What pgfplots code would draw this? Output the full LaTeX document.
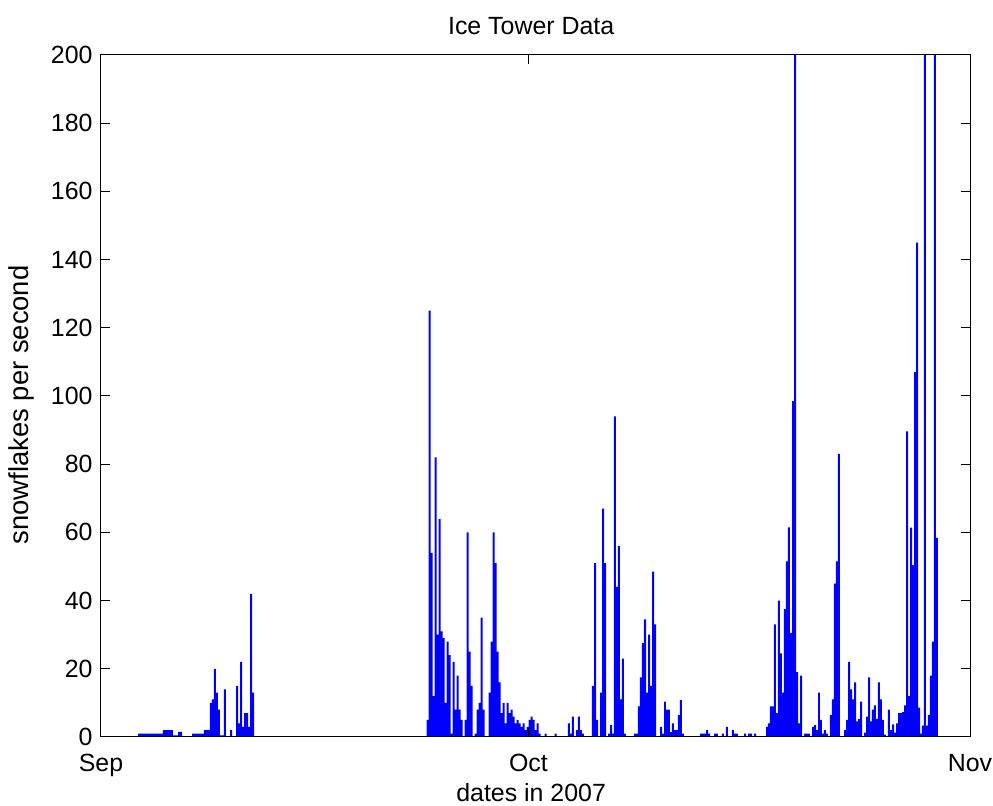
\documentclass[border=0pt]{standalone}
\usepackage{fontspec}
\setmainfont{Liberation Sans}
\usepackage{pgfplots}
\usepackage{pgfplotstable}
\pgfplotsset{compat=1.18}
\definecolor{mblue}{RGB}{0,0,255}

% day since 1 Sep 2007 (start of bin), snowflakes per second
\pgfplotstableread{
day rate
0 0
2.60 1
4.35 2
5.05 0.5
5.41 1.5
5.69 0
6.39 1
7.23 2
7.65 10
7.79 11
7.93 20
8.07 13
8.21 8
8.35 0.5
8.63 14
8.77 0
9.06 2
9.20 0
9.48 15
9.62 4
9.76 22
9.90 3
10.04 7
10.32 3
10.46 42
10.60 13
10.74 0
22.86 5
23.00 125
23.14 54
23.28 12
23.42 82
23.56 30
23.70 64
23.84 31
23.98 29
24.12 10
24.26 28
24.40 24
24.54 1
24.69 22
24.83 8
24.97 18
25.11 8
25.25 5
25.39 0
25.53 5
25.67 60
25.81 25
25.95 15
26.09 0
26.23 1
26.37 8
26.51 10
26.65 35
26.79 8
26.93 0
27.21 13
27.35 28
27.49 60
27.63 51
27.77 25
27.91 16
28.05 7
28.19 10
28.34 4
28.48 10
28.62 7
28.76 8
28.90 6
29.04 4
29.18 5
29.32 4
29.46 3
29.60 4
29.74 2
29.88 3
30.02 5
30.16 6
30.30 5
30.44 2
30.58 4
30.72 1
30.86 0
31.14 1
31.28 0
31.84 1
31.98 0
32.78 4
32.92 1
33.06 6
33.20 0
33.34 2
33.48 6
33.62 2
33.76 1
33.90 0
34.46 15
34.61 51
34.75 5
34.89 0
35.03 13
35.17 67
35.31 51
35.45 0
35.59 1
35.73 3.5
35.87 1
36.01 94
36.15 44
36.29 56
36.43 11
36.57 23
36.71 1
36.85 0
37.41 1
37.69 9
37.83 17.5
37.97 27.5
38.11 34.5
38.26 13
38.40 30
38.54 15
38.68 48.5
38.82 33
38.96 0
39.24 3
39.38 1
39.52 10.4
39.66 8
39.80 8
39.94 1.4
40.08 4
40.22 2
40.36 2
40.50 6.4
40.64 10.8
40.78 1
40.92 0
42.05 1
42.47 2
42.61 1
42.75 0
43.03 1
43.31 0
43.59 1
43.73 0
43.87 3
44.01 0
44.29 2
44.43 1
44.71 0
45.14 1
45.28 0
45.42 1
45.70 0
45.84 1
45.98 0
46.68 3
46.82 4
46.96 9
47.24 33
47.38 7
47.52 40
47.66 24.5
47.80 13
47.94 37.5
48.08 51.5
48.22 61.5
48.36 30.5
48.51 98.5
48.65 250
48.79 19
48.93 4
49.07 18
49.21 0
49.35 1
49.77 0
49.91 3
50.05 3.5
50.19 2
50.33 13
50.47 5
50.61 1
50.75 2
50.89 1
51.03 0
51.17 6.4
51.31 11
51.45 45
51.59 51.5
51.73 83
51.87 0
52.16 2
52.30 5
52.44 22
52.58 14
52.72 11
52.86 16
53.00 4.6
53.14 5.3
53.28 10.4
53.42 0
53.56 1.3
53.70 6
53.84 17.5
53.98 4.6
54.12 8
54.26 9.3
54.40 5.3
54.54 16
54.68 11
54.82 5
54.96 0.7
55.10 0
55.24 8
55.38 2
55.53 3.7
55.67 1.3
55.81 4
55.95 7
56.09 7
56.23 7.3
56.37 9.3
56.51 89.6
56.65 12
56.79 61.4
56.93 50.4
57.07 107
57.21 145
57.35 8.6
57.49 1
57.63 3.3
57.77 250
57.91 3.3
58.05 6.4
58.19 18
58.33 28
58.47 250
58.61 58.4
58.75 0
61 0
}\snow

\begin{document}
\begin{tikzpicture}
\begin{axis}[
  scale only axis,
  width=869bp, height=682bp,
  at={(0,0)}, anchor=south west,
  xmin=0, xmax=61, ymin=0, ymax=200,
  xtick={0,30,61},
  xticklabels={Sep,Oct,Nov},
  ytick={0,20,...,200},
  tick align=inside,
  major tick length=9bp,
  axis line style={black, line width=1bp},
  every tick/.style={black, line width=1bp},
  axis on top,
  font=\fontsize{25}{30}\selectfont,
  /pgf/number format/assume math mode=true,
  xticklabel style={anchor=base, yshift=-35bp},
  yticklabel style={anchor=east, xshift=-5bp},
  title={Ice Tower Data},
  title style={at={(axis description cs:0.495,1.022)}, anchor=base},
  xlabel={dates in 2007},
  xlabel style={at={(axis description cs:0.495,-0.094)}, anchor=base},
  ylabel={snowflakes per second},
  ylabel style={at={(axis description cs:-0.091,0.487)}, anchor=center,
    font=\fontsize{27.5}{32}\selectfont},
]
\addplot[const plot, draw=none, fill=mblue] table[x=day, y=rate] {\snow} \closedcycle;
\end{axis}
\pgfresetboundingbox
\path (-101bp,-69bp) rectangle (892bp,737bp);
\end{tikzpicture}
\end{document}
